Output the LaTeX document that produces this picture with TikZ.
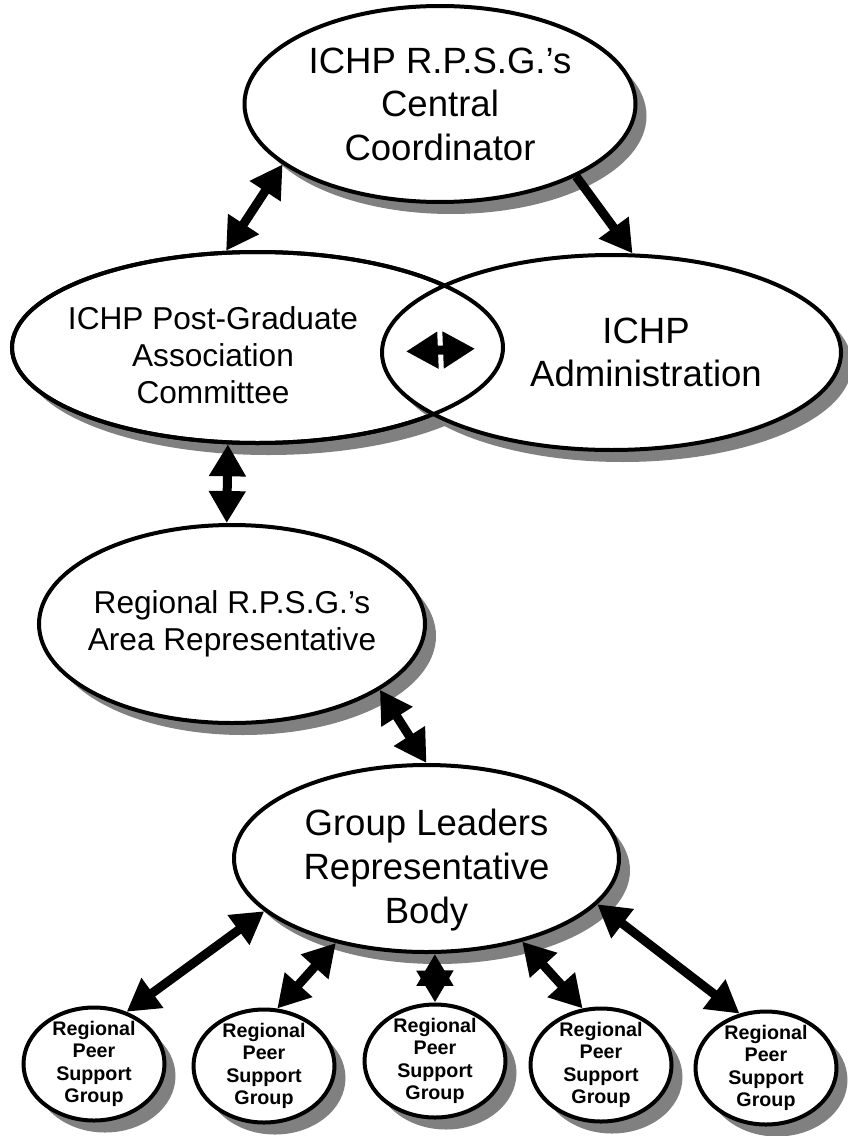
\documentclass[tikz,border=0pt]{standalone}
\usepackage{fontspec}
\setmainfont{Liberation Sans}
\usetikzlibrary{positioning,shapes,arrows.meta,shadows}
\tikzstyle{bubble} = [draw, fill=white, ellipse, line width=0.08cm, inner sep=-0.3cm, align=center, drop shadow={shadow xshift=0.22cm, shadow yshift=-0.24cm, fill=black!50, opacity=1}]
\tikzstyle{bigbubble} = [bubble, font=\fontsize{20.8}{24.8}\selectfont]
\tikzstyle{midbubble} = [bubble, font=\fontsize{18}{21.2}\selectfont]
\tikzstyle{peer} = [bubble, minimum width=2.82cm, minimum height=2.26cm, font=\bfseries\fontsize{11.2}{12.8}\selectfont]
\tikzstyle{bigtext} = [align=center, font=\fontsize{20.8}{24.8}\selectfont]
\tikzstyle{midtext} = [align=center, font=\fontsize{18}{21.2}\selectfont]
\tikzstyle{link} = [<->, line width=0.18cm]

\begin{document}
\begin{tikzpicture}[>={Triangle[length=0.64cm,width=0.7cm]}, node distance=3.4cm]
		\useasboundingbox (0,0) rectangle (16.94,-22.72);
		\node (central) [bigbubble, minimum width=7.82cm, minimum height=3.92cm] at (8.8,-2.08) {ICHP R.P.S.G.'s\\Central\\Coordinator};
		\node (pga) [bubble, minimum width=9.82cm, minimum height=3.82cm, below of=central, node distance=4.87cm, xshift=-3.65cm,
			label={[midtext, xshift=-0.89cm, yshift=-0.15cm]center:ICHP Post-Graduate\\Association\\Committee}] {};
		\node (admin) [bubble, minimum width=9.18cm, minimum height=3.9cm, right of=pga, node distance=7.08cm, yshift=-0.1cm,
			label={[bigtext, xshift=0.69cm]center:ICHP\\Administration}] {};
		% both outlines show where the two ellipses overlap
		\draw [line width=0.08cm] (pga.center) ellipse [x radius=4.91cm, y radius=1.91cm];
		\node (area) [midbubble, minimum width=7.72cm, minimum height=3.96cm, below of=pga, node distance=5.53cm, xshift=-0.51cm] {Regional R.P.S.G.'s\\Area Representative};
		\node (leaders) [bubble, minimum width=7.7cm, minimum height=3.74cm, below of=area, node distance=4.69cm, xshift=3.89cm,
			label={[bigtext, yshift=-0.23cm]center:Group Leaders\\Representative\\Body}] {};
		\node (g3) [peer, below of=leaders, node distance=4.05cm, xshift=0.17cm] {Regional\\Peer\\Support\\Group};
		\node (g2) [peer, left of=g3, node distance=3.42cm, yshift=-0.1cm] {Regional\\Peer\\Support\\Group};
		\node (g1) [peer, left of=g2, node distance=3.4cm, yshift=0.04cm] {Regional\\Peer\\Support\\Group};
		\node (g4) [peer, right of=g3, node distance=3.32cm, yshift=-0.08cm] {Regional\\Peer\\Support\\Group};
		\node (g5) [peer, right of=g4, node distance=3.3cm, yshift=-0.06cm] {Regional\\Peer\\Support\\Group};

		\draw [link] (central.201) -- (pga.108);
		\draw [->, line width=0.18cm] (central.332) -- (admin.78);
		\draw [link, shorten <=0.52cm, shorten >=0.6cm] (admin.west) -- (pga.east);
		\draw [link] (pga.253) -- (area.93);
		\draw [link] (area.336) -- (leaders.north);
		\draw [link] (leaders.198) -- (g1.58);
		\draw [link] (leaders.223) -- (g2.77);
		\draw [link] (leaders.275) -- (g3.north);
		\draw [link] (leaders.319) -- (g4.108);
		\draw [link] (leaders.345) -- (g5.116);
\end{tikzpicture}
\end{document}
